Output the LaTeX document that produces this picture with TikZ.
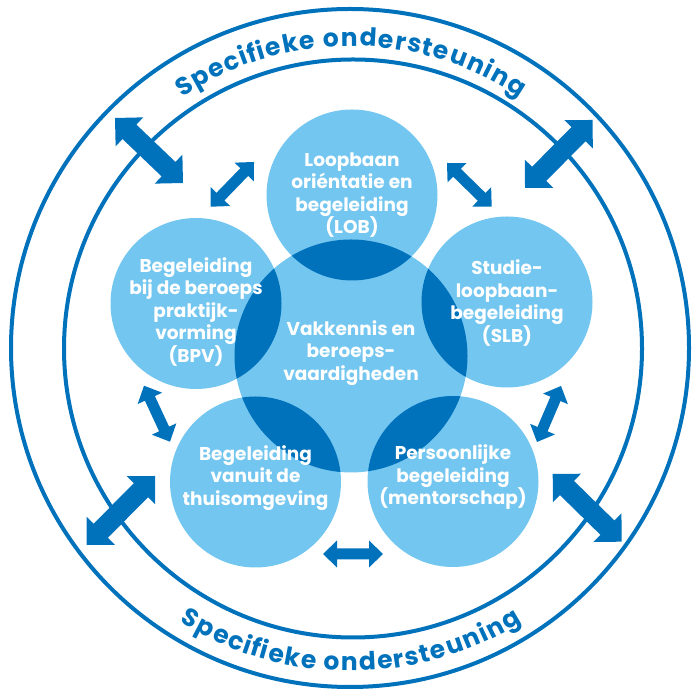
\documentclass[tikz,border=0pt]{standalone}
\usepackage{fontspec}
\setmainfont{Poppins}
\usetikzlibrary{calc,decorations.text}
\definecolor{dk}{HTML}{0072BC}
\definecolor{lt}{HTML}{73C6EF}
\newcommand\ringfont{\bfseries\fontsize{25}{25}\selectfont}
\newcommand\dblarrow[5]{%
  \path ($(#1)!#4!(#2)$) coordinate (p1) ($(#2)!#4!(#1)$) coordinate (p2);
  \fill[dk] (#1) -- ($(p1)!#5!90:(#2)$) -- ($(p1)!#3!90:(#2)$)
    -- ($(p2)!#3!-90:(#1)$) -- ($(p2)!#5!-90:(#1)$) -- (#2)
    -- ($(p2)!#5!90:(#1)$) -- ($(p2)!#3!90:(#1)$)
    -- ($(p1)!#3!-90:(#2)$) -- ($(p1)!#5!-90:(#2)$) -- cycle;}
\tikzset{
  bub/.style={circle, fill=lt, minimum size=171pt, inner sep=0pt},
  lbl/.style={text=white, font=\bfseries\fontsize{18.5}{22.5}\selectfont, align=center, inner sep=0pt},
  ring/.style={draw=dk, line width=4pt}
}
\begin{document}
\begin{tikzpicture}[x=1pt,y=1pt]
\useasboundingbox (0,0) rectangle (693,690);
% rings
\draw[ring] (350,342) circle[radius=339];
\draw[ring] (353,341.5) circle[radius=289];
% ring texts
\path[font=\ringfont, decorate, decoration={text effects along path,
   text={Specifieke ondersteuning},
   text effects/.cd, text along path, fit text to path,
   characters={font=\ringfont, text=dk}}]
  ($(351,342)+(124:302)$) arc[start angle=124, end angle=56, radius=302];
\path[font=\ringfont, decorate, decoration={text effects along path,
   text={Specifieke ondersteuning},
   text effects/.cd, text along path, fit text to path,
   characters={font=\ringfont, text=dk}}]
  ($(351,342)+(238:323)$) arc[start angle=238, end angle=302, radius=323];
% bubbles
\node[bub] (lob) at (352,495) {};
\node[bub] (bpv) at (196,386.5) {};
\node[bub] (slb) at (507,388) {};
\node[bub] (thuis) at (255.5,208) {};
\node[bub] (ment) at (453,208.5) {};
\node[bub, minimum size=233pt] (vak) at (351,334) {};
\begin{scope}
  \clip (vak.center) circle[radius=116.5];
  \foreach \c in {lob,bpv,slb,thuis,ment} \fill[dk] (\c.center) circle[radius=85.5];
\end{scope}
% labels
\node[lbl] at (lob.center) {Loopbaan\\oriéntatie en\\begeleiding\\(LOB)};
\node[lbl] at ([yshift=-8.5pt]bpv.center) {Begeleiding\\bij de beroeps\\praktijk-\\vorming\\(BPV)};
\node[lbl] at ([yshift=-1pt]slb.center) {Studie-\\loopbaan-\\begeleiding\\(SLB)};
\node[lbl] at ([yshift=4pt]thuis.center) {Begeleiding\\vanuit de\\thuisomgeving};
\node[lbl] at ([yshift=4pt]ment.center) {Persoonlijke\\begeleiding\\(mentorschap)};
\node[lbl] at ([yshift=3pt]vak.center) {Vakkennis en\\beroeps-\\vaardigheden};
% arrow end points
\coordinate (tlA) at (115,572);   \coordinate (tlB) at (183,507);
\coordinate (trA) at (592.7,570); \coordinate (trB) at (525,502);
\coordinate (blA) at (155,214);   \coordinate (blB) at (86.7,145);
\coordinate (brA) at (552.7,216); \coordinate (brB) at (621.7,148.3);
\coordinate (a1) at (254,528);    \coordinate (a2) at (210.7,483.3);
\coordinate (b1) at (447,527);    \coordinate (b2) at (491.7,483.3);
\coordinate (c1) at (144,304.3);  \coordinate (c2) at (170,248.3);
\coordinate (d1) at (561,304);    \coordinate (d2) at (537,248);
\coordinate (e1) at (323,136);    \coordinate (e2) at (383,136);
% arrows
\dblarrow{tlA}{tlB}{10pt}{20pt}{20pt}
\dblarrow{trA}{trB}{10pt}{20pt}{20pt}
\dblarrow{blA}{blB}{10pt}{20pt}{20pt}
\dblarrow{brA}{brB}{10pt}{20pt}{20pt}
\dblarrow{a1}{a2}{5.5pt}{14pt}{13.5pt}
\dblarrow{b1}{b2}{5.5pt}{14pt}{13.5pt}
\dblarrow{c1}{c2}{5.5pt}{14pt}{13.5pt}
\dblarrow{d1}{d2}{5.5pt}{14pt}{13.5pt}
\dblarrow{e1}{e2}{5.5pt}{14pt}{13.5pt}
\end{tikzpicture}
\end{document}
